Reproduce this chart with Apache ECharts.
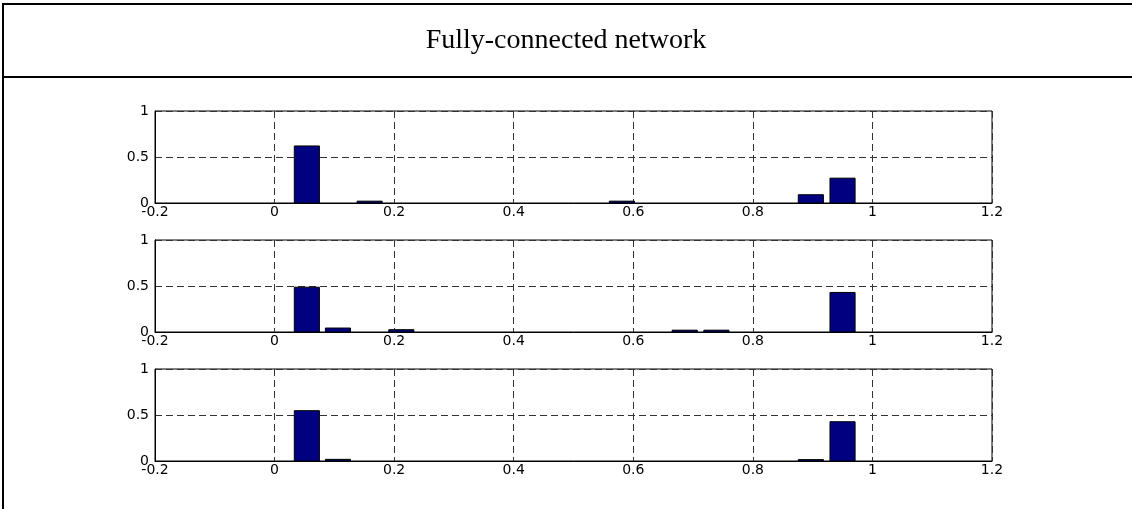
<!DOCTYPE html>
<html>
<head>
<meta charset="utf-8">
<script src="https://cdn.jsdelivr.net/npm/echarts@6/dist/echarts.min.js"></script>
<style>
html,body{margin:0;padding:0;background:#fff;}
#chart{width:1132px;height:509px;}
</style>
</head>
<body>
<div id="chart"></div>
<script>
// Bin centres
const binCenters = [0.054, 0.106, 0.159, 0.212, 0.264, 0.317, 0.370, 0.422, 0.475,
                    0.528, 0.581, 0.633, 0.686, 0.739, 0.791, 0.844, 0.897, 0.950];
// Bar heights per panel
const panel1 = [0.62, 0, 0.02, 0, 0, 0, 0, 0, 0, 0, 0.02, 0, 0, 0, 0, 0, 0.09, 0.27];
const panel2 = [0.487, 0.043, 0, 0.025, 0, 0, 0, 0, 0, 0, 0, 0, 0.02, 0.02, 0, 0, 0, 0.43];
const panel3 = [0.547, 0.018, 0, 0, 0, 0, 0, 0, 0, 0, 0, 0, 0, 0, 0, 0, 0.015, 0.427];
const xTicks = [-0.2, 0, 0.2, 0.4, 0.6, 0.8, 1, 1.2];
const yTicks = [0, 0.5, 1];
const titleText = 'Fully-connected network';

const BAR_HALF = 0.021; // half bar width in data units (0.8 of bin width)

const panels = [panel1, panel2, panel3];
const gridTops = [111, 240, 369];
const gridHeights = [92, 92, 92];

const grids = [], xAxes = [], yAxes = [], series = [];
panels.forEach((vals, i) => {
  grids.push({
    left: 155, right: 140, top: gridTops[i], height: gridHeights[i],
    show: true, borderColor: '#000', borderWidth: 1, backgroundColor: '#fff'
  });
  xAxes.push({
    type: 'value', gridIndex: i,
    min: xTicks[0], max: xTicks[xTicks.length - 1], interval: 0.2,
    axisLine: {show: true, onZero: false, lineStyle: {color: '#000', width: 1}},
    axisTick: {show: false},
    axisLabel: {color: '#000', fontFamily: 'DejaVu Sans', fontSize: 14, margin: 2,
      formatter: v => String(Math.round(v * 10) / 10)},
    splitLine: {show: true, lineStyle: {color: '#333', type: [7, 4], width: 1}}
  });
  yAxes.push({
    type: 'value', gridIndex: i,
    min: yTicks[0], max: yTicks[yTicks.length - 1], interval: 0.5,
    axisLine: {show: true, onZero: false, lineStyle: {color: '#000', width: 1}},
    axisTick: {show: false},
    axisLabel: {color: '#000', fontFamily: 'DejaVu Sans', fontSize: 14, margin: 6},
    splitLine: {show: true, lineStyle: {color: '#333', type: [7, 4], width: 1}}
  });
  series.push({
    type: 'custom', xAxisIndex: i, yAxisIndex: i,
    data: binCenters.map((c, k) => [c, vals[k]]),
    renderItem: function (params, api) {
      const x = api.value(0), y = api.value(1);
      if (!(y > 0)) return null;
      const p0 = api.coord([x - BAR_HALF, y]);
      const p1 = api.coord([x + BAR_HALF, 0]);
      return {
        type: 'rect',
        shape: {x: p0[0], y: p0[1], width: p1[0] - p0[0], height: p1[1] - p0[1]},
        style: {fill: '#000080', stroke: '#000', lineWidth: 1}
      };
    },
    z: 3
  });
});

const chart = echarts.init(document.getElementById('chart'), null, {renderer: 'canvas'});
chart.setOption({
  animation: false,
  backgroundColor: '#fff',
  title: {
    text: titleText, left: 'center', top: 22,
    textStyle: {fontFamily: 'Liberation Serif', fontSize: 28, fontWeight: 'normal', color: '#000'}
  },
  graphic: [
    {type: 'line', shape: {x1: 2, y1: 4, x2: 1132, y2: 4}, style: {stroke: '#000', lineWidth: 2}},
    {type: 'line', shape: {x1: 2, y1: 77, x2: 1132, y2: 77}, style: {stroke: '#000', lineWidth: 2}},
    {type: 'line', shape: {x1: 3, y1: 3, x2: 3, y2: 509}, style: {stroke: '#000', lineWidth: 2}}
  ],
  grid: grids, xAxis: xAxes, yAxis: yAxes, series: series
});
</script>
</body>
</html>
